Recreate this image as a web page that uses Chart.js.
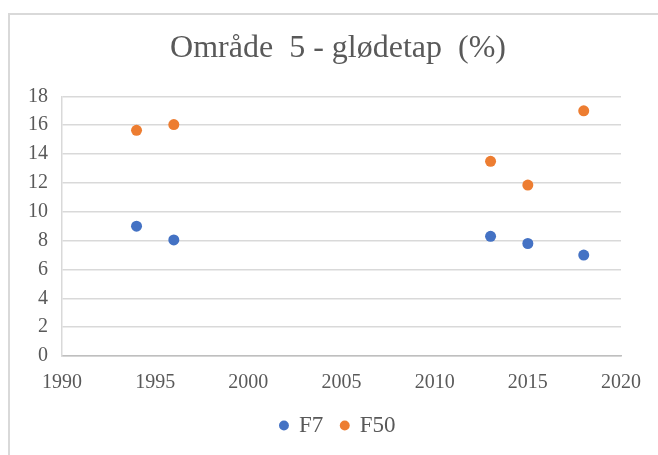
<!DOCTYPE html>
<html>
<head>
<meta charset="utf-8">
<script src="https://cdn.jsdelivr.net/npm/chart.js@4.4.1/dist/chart.umd.min.js"></script>
<style>
  body { margin: 0; overflow: hidden; background: #fff; }
  #wrap { position: relative; width: 658px; height: 455px; overflow: hidden; }
  #frame {
    position: absolute; left: 8px; top: 13px;
    width: 700px; height: 500px;
    border: 2px solid #d9d9d9;
  }
  canvas { position: absolute; left: 0; top: 0; }
</style>
</head>
<body>
<div id="wrap">
  <div id="frame"></div>
  <canvas id="chart" width="658" height="455"></canvas>
</div>
<script>
// sampling years and loss-on-ignition values per fraction
const years = [1994, 1996, 2013, 2015, 2018];
const f7 = [9.0, 8.05, 8.3, 7.8, 7.0];
const f50 = [15.65, 16.05, 13.5, 11.85, 17.0];

const seriesNames = ['F7', 'F50'];
const seriesColors = ['#4472C4', '#ED7D31'];

const textColor = '#595959';
const serif = '"Liberation Serif", "Times New Roman", serif';

const toPoints = vals => years.map((y, i) => ({ x: y, y: vals[i] }));

const ctx = document.getElementById('chart').getContext('2d');
new Chart(ctx, {
  type: 'scatter',
  data: {
    datasets: [f7, f50].map((vals, i) => ({
      label: seriesNames[i],
      data: toPoints(vals),
      backgroundColor: seriesColors[i],
      borderColor: seriesColors[i],
      borderWidth: 0,
      pointRadius: 5.5,
      pointHoverRadius: 5.5
    }))
  },
  options: {
    responsive: false,
    animation: false,
    events: [],
    layout: { padding: { left: 18, right: 0, top: 0, bottom: 8 } },
    plugins: {
      title: {
        display: true,
        text: 'Område  5 - glødetap  (%)',
        color: textColor,
        font: { family: serif, size: 32, weight: 'normal' },
        padding: { top: 29, bottom: 29 }
      },
      legend: {
        position: 'bottom',
        labels: {
          usePointStyle: true,
          pointStyle: 'circle',
          boxWidth: 7,
          boxHeight: 7,
          padding: 18,
          color: textColor,
          font: { family: serif, size: 23 }
        }
      },
      tooltip: { enabled: false }
    },
    scales: {
      x: {
        type: 'linear',
        min: 1990,
        max: 2020,
        afterFit: s => { s.height = 40; },
        ticks: {
          stepSize: 5,
          padding: 15,
          color: textColor,
          font: { family: serif, size: 20 },
          callback: v => String(v)
        },
        grid: { display: false, drawTicks: false },
        border: { display: true, color: '#bfbfbf', width: 1.5 }
      },
      y: {
        min: 0,
        max: 18,
        afterFit: s => { s.width = 44; },
        ticks: {
          stepSize: 2,
          padding: 14,
          color: textColor,
          font: { family: serif, size: 20 }
        },
        grid: { color: '#d9d9d9', lineWidth: 1.5, drawTicks: false },
        border: { display: true, color: '#d9d9d9', width: 1.5 }
      },
      // empty right-hand gutter so the plot stops short of the frame edge
      gutter: {
        axis: 'y',
        position: 'right',
        afterFit: s => { s.width = 37; },
        ticks: { display: false },
        grid: { display: false, drawTicks: false },
        border: { display: false }
      }
    }
  }
});
</script>
</body>
</html>
